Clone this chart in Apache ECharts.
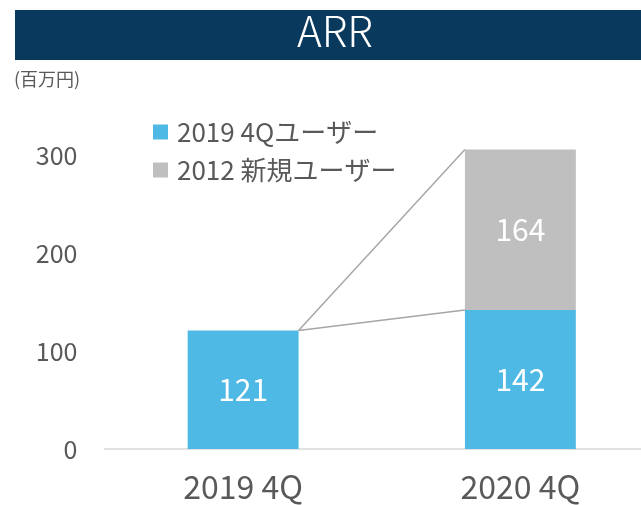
<!DOCTYPE html>
<html>
<head>
<meta charset="utf-8">
<script src="https://cdn.jsdelivr.net/npm/echarts@6/dist/echarts.min.js"></script>
<style>
html,body{margin:0;padding:0;background:#fff;}
#chart{width:641px;height:505px;}
</style>
</head>
<body>
<div id="chart"></div>
<script>
const categories = ['2019 4Q', '2020 4Q'];
const seriesNames = ['2019 4Qユーザー', '2012 新規ユーザー'];
const existingUsers = [121, 142];
const newUsers = [null, 164];
const yTicks = [0, 100, 200, 300];

const FONT = '"Noto Sans CJK JP", "Noto Sans", sans-serif';
const GREY_TEXT = '#595959';
const BLUE = '#4FB9E5';
const GREY = '#BFBFBF';

const totals = existingUsers.map((v, i) => v + (newUsers[i] || 0));

const chart = echarts.init(document.getElementById('chart'), null, {renderer: 'canvas'});
chart.setOption({
  animation: false,
  textStyle: {fontFamily: FONT},
  graphic: [
    {type: 'rect', shape: {x: 15, y: 10, width: 626, height: 50}, style: {fill: '#093A5E'}, silent: true},
    {type: 'text', x: 335, y: 31, style: {text: 'ARR', fill: '#ffffff', font: '300 42px ' + FONT, textAlign: 'center', textVerticalAlign: 'middle'}},
    {type: 'text', x: 14, y: 79, style: {text: '(百万円)', fill: GREY_TEXT, font: '18px ' + FONT, textAlign: 'left', textVerticalAlign: 'middle'}}
  ],
  legend: {
    orient: 'vertical',
    left: 148,
    top: 114,
    itemWidth: 15,
    itemHeight: 15,
    itemGap: 12,
    icon: 'rect',
    textStyle: {fontSize: 26, color: GREY_TEXT, fontFamily: FONT, padding: [0, 0, 0, 4]},
    data: seriesNames
  },
  grid: {left: 104.5, right: -18, top: 106.5, bottom: 56, containLabel: false, outerBoundsMode: 'none'},
  xAxis: {
    type: 'category',
    data: categories,
    axisLine: {lineStyle: {color: '#D9D9D9', width: 1.5}},
    axisTick: {show: false},
    axisLabel: {fontSize: 32, color: GREY_TEXT, margin: 22, fontFamily: FONT}
  },
  yAxis: {
    type: 'value',
    min: yTicks[0],
    max: 350,
    interval: yTicks[1] - yTicks[0],
    splitLine: {show: false},
    axisLine: {show: false},
    axisTick: {show: false},
    axisLabel: {fontSize: 25, color: GREY_TEXT, margin: 27, fontFamily: FONT, showMaxLabel: false,
      formatter: v => yTicks.indexOf(v) >= 0 ? String(v) : ''}
  },
  series: [
    {
      name: seriesNames[0], type: 'bar', stack: 'a', barWidth: '40%',
      data: existingUsers,
      itemStyle: {color: BLUE},
      label: {show: true, position: 'inside', color: '#fff', fontSize: 30, fontFamily: FONT}
    },
    {
      name: seriesNames[1], type: 'bar', stack: 'a', barWidth: '40%',
      data: newUsers,
      itemStyle: {color: GREY},
      label: {show: true, position: 'inside', color: '#fff', fontSize: 30, fontFamily: FONT}
    },
    {
      type: 'custom',
      silent: true,
      z: 5,
      data: [[0, totals[0], 1, existingUsers[1], totals[1]]],
      renderItem: function (params, api) {
        const half = api.size([1, 0])[0] * 0.2;
        const p0 = api.coord([api.value(0), api.value(1)]);
        const p1 = api.coord([api.value(2), api.value(3)]);
        const p2 = api.coord([api.value(2), api.value(4)]);
        const sx = p0[0] + half, sy = p0[1];
        const ex = p1[0] - half;
        const st = {stroke: '#A6A6A6', lineWidth: 1.5, fill: null};
        return {type: 'group', children: [
          {type: 'line', shape: {x1: sx, y1: sy, x2: ex, y2: p1[1]}, style: st},
          {type: 'line', shape: {x1: sx, y1: sy, x2: ex, y2: p2[1]}, style: st}
        ]};
      }
    }
  ]
});
</script>
</body>
</html>
